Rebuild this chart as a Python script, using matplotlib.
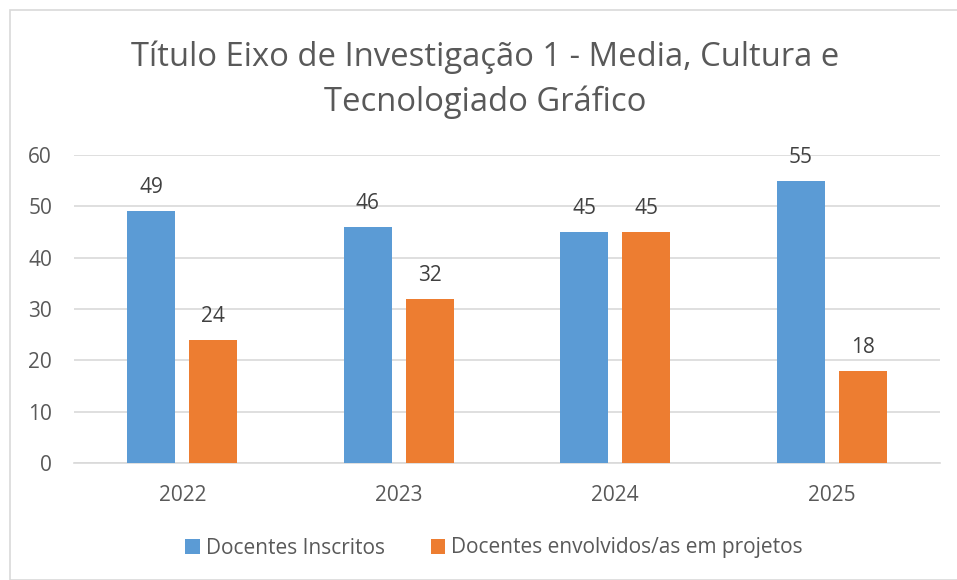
import matplotlib
matplotlib.use("Agg")
import matplotlib.pyplot as plt
from matplotlib.patches import Rectangle
import numpy as np

categories = ["2022", "2023", "2024", "2025"]
inscritos = [49, 46, 45, 55]
envolvidos = [24, 32, 45, 18]
series_names = ["Docentes Inscritos", "Docentes envolvidos/as em projetos"]
title = "Título Eixo de Investigação 1 - Media, Cultura e\nTecnologiado Gráfico"

plt.rcParams['font.family'] = ['Open Sans', 'DejaVu Sans']
TXT = "#595959"
BLUE = "#5B9BD5"
ORANGE = "#ED7D31"

fig = plt.figure(figsize=(9.57, 5.80), dpi=100)
fig.patches.append(Rectangle((10/957, 0), 1.5, 1 - 10/580, transform=fig.transFigure,
                             fill=False, edgecolor="#D9D9D9", linewidth=1.2))
ax = fig.add_axes([74/957, 1 - 463/580, 866/957, 308/580])

x = np.arange(len(categories))
w = 0.222
off = 0.143
b1 = ax.bar(x - off, inscritos, w, color=BLUE, label=series_names[0], zorder=3)
b2 = ax.bar(x + off, envolvidos, w, color=ORANGE, label=series_names[1], zorder=3)
for bars in (b1, b2):
    for r in bars:
        ax.annotate(f"{int(r.get_height())}", (r.get_x() + r.get_width()/2, r.get_height()),
                    xytext=(0, 13), textcoords="offset points", ha="center", va="baseline",
                    fontsize=15, color="#404040", zorder=4)

ax.set_xlim(-0.5, 3.5)
ax.set_ylim(0, 60)
ax.set_yticks(range(0, 61, 10))
ax.set_xticks(x)
ax.set_xticklabels(categories)
ax.grid(axis="y", color="#D9D9D9", linewidth=1.2, zorder=0)
for s in ["top", "right", "left"]:
    ax.spines[s].set_visible(False)
ax.spines["bottom"].set_color("#D9D9D9")
ax.spines["bottom"].set_linewidth(1.2)
ax.tick_params(axis="both", length=0, labelsize=15, colors=TXT)
ax.tick_params(axis="y", pad=15.8)
ax.tick_params(axis="x", pad=16)

fig.text(485.5/957, 1 - 80/580, title, ha="center", va="center", fontsize=23.6, color=TXT,
         linespacing=1.45)

fig.legend(loc="center", bbox_to_anchor=(494/957, 1 - 548/580), ncol=2, frameon=False,
           fontsize=15, labelcolor=TXT, handlelength=0.7, handleheight=0.7,
           handletextpad=0.3, columnspacing=2.2)

fig.savefig("out.png", dpi=100, facecolor="white")
